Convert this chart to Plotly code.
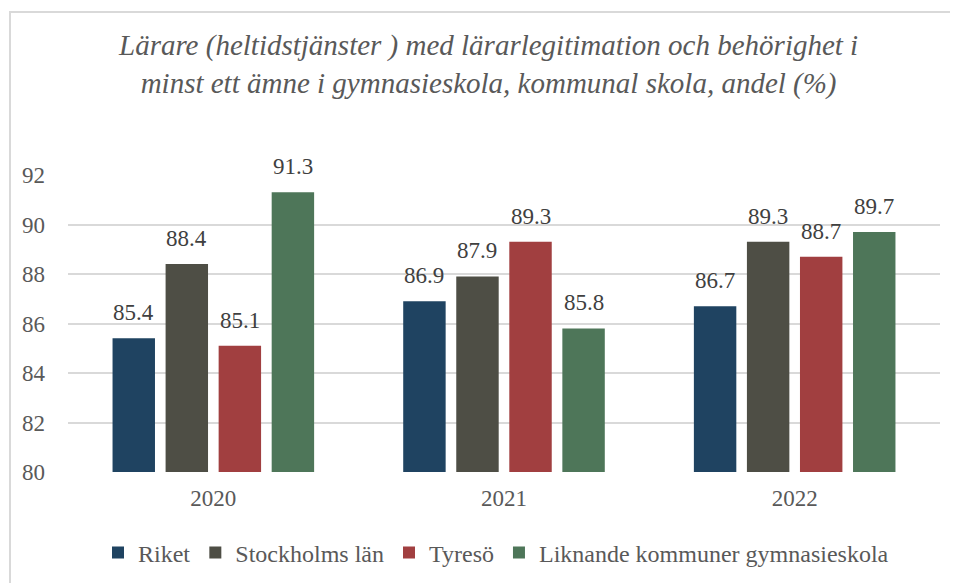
import plotly.graph_objects as go

years = ["2020", "2021", "2022"]
series_names = ["Riket", "Stockholms län", "Tyresö", "Liknande kommuner gymnasieskola"]
riket = [85.4, 86.9, 86.7]
stockholm = [88.4, 87.9, 89.3]
tyreso = [85.1, 89.3, 88.7]
liknande = [91.3, 85.8, 89.7]
colors = ["#1F4361", "#4E4E45", "#A13F40", "#4E7659"]
title_text = "<i>Lärare (heltidstjänster ) med lärarlegitimation och behörighet i<br>minst ett ämne i gymnasieskola, kommunal skola, andel (%)</i>"

values = [riket, stockholm, tyreso, liknande]
font_family = "Liberation Serif"
grey = "#595959"

bargap = 0.27
bargroupgap = 0.2

fig = go.Figure()
for name, vals, col in zip(series_names, values, colors):
    fig.add_trace(go.Bar(name=name, x=years, y=vals, marker=dict(color=col, line=dict(width=0))))

# page offset from body margin
OFF = 8
W, H = 958, 583
ml, mr, mt, mb = 60, 26, 167, 119
pw = W - ml - mr
ph = H - mt - mb

def px_to_paper_x(px):
    return (px - OFF - ml) / pw

def px_to_paper_y(py):
    return (H - mb - (py - OFF)) / ph

n = len(values)
slot = (1 - bargap) / n
annotations = []
for i, vals in enumerate(values):
    off = (i - (n - 1) / 2) * slot
    for j, v in enumerate(vals):
        annotations.append(dict(x=j + off, y=v, xref="x", yref="y", text=f"{v:.1f}",
                                showarrow=False, yanchor="bottom", yshift=11,
                                font=dict(family=font_family, size=23, color="#404040")))

annotations.append(dict(x=px_to_paper_x(488), y=px_to_paper_y(64.5), xref="paper", yref="paper",
                        text=title_text, showarrow=False, xanchor="center", yanchor="middle",
                        font=dict(family=font_family, size=29, color=grey)))

fig.update_layout(
    width=W, height=H,
    margin=dict(l=ml, r=mr, t=mt, b=mb),
    paper_bgcolor="white", plot_bgcolor="white",
    barmode="group", bargap=bargap, bargroupgap=bargroupgap,
    font=dict(family=font_family, color=grey, size=23),
    annotations=annotations,
    showlegend=True,
    legend=dict(orientation="h", x=px_to_paper_x(496), xanchor="center", y=px_to_paper_y(553),
                yanchor="middle", font=dict(family=font_family, size=24, color=grey),
                itemwidth=30, traceorder="normal"),
    xaxis=dict(showgrid=False, showline=False, ticks="", zeroline=False, ticklabelstandoff=10,
               tickfont=dict(family=font_family, size=23, color=grey)),
    yaxis=dict(range=[80, 92], dtick=2, showgrid=True, gridcolor="#D9D9D9", gridwidth=1.5,
               zeroline=False, showline=False, ticks="", ticklabelstandoff=22,
               tickfont=dict(family=font_family, size=23, color=grey)),
    shapes=[dict(type="rect", xref="paper", yref="paper",
                 x0=px_to_paper_x(10), x1=px_to_paper_x(975),
                 y0=px_to_paper_y(600), y1=px_to_paper_y(12),
                 line=dict(color="#D9D9D9", width=2), fillcolor="rgba(0,0,0,0)", layer="below")],
)

fig.write_html("out.html")
